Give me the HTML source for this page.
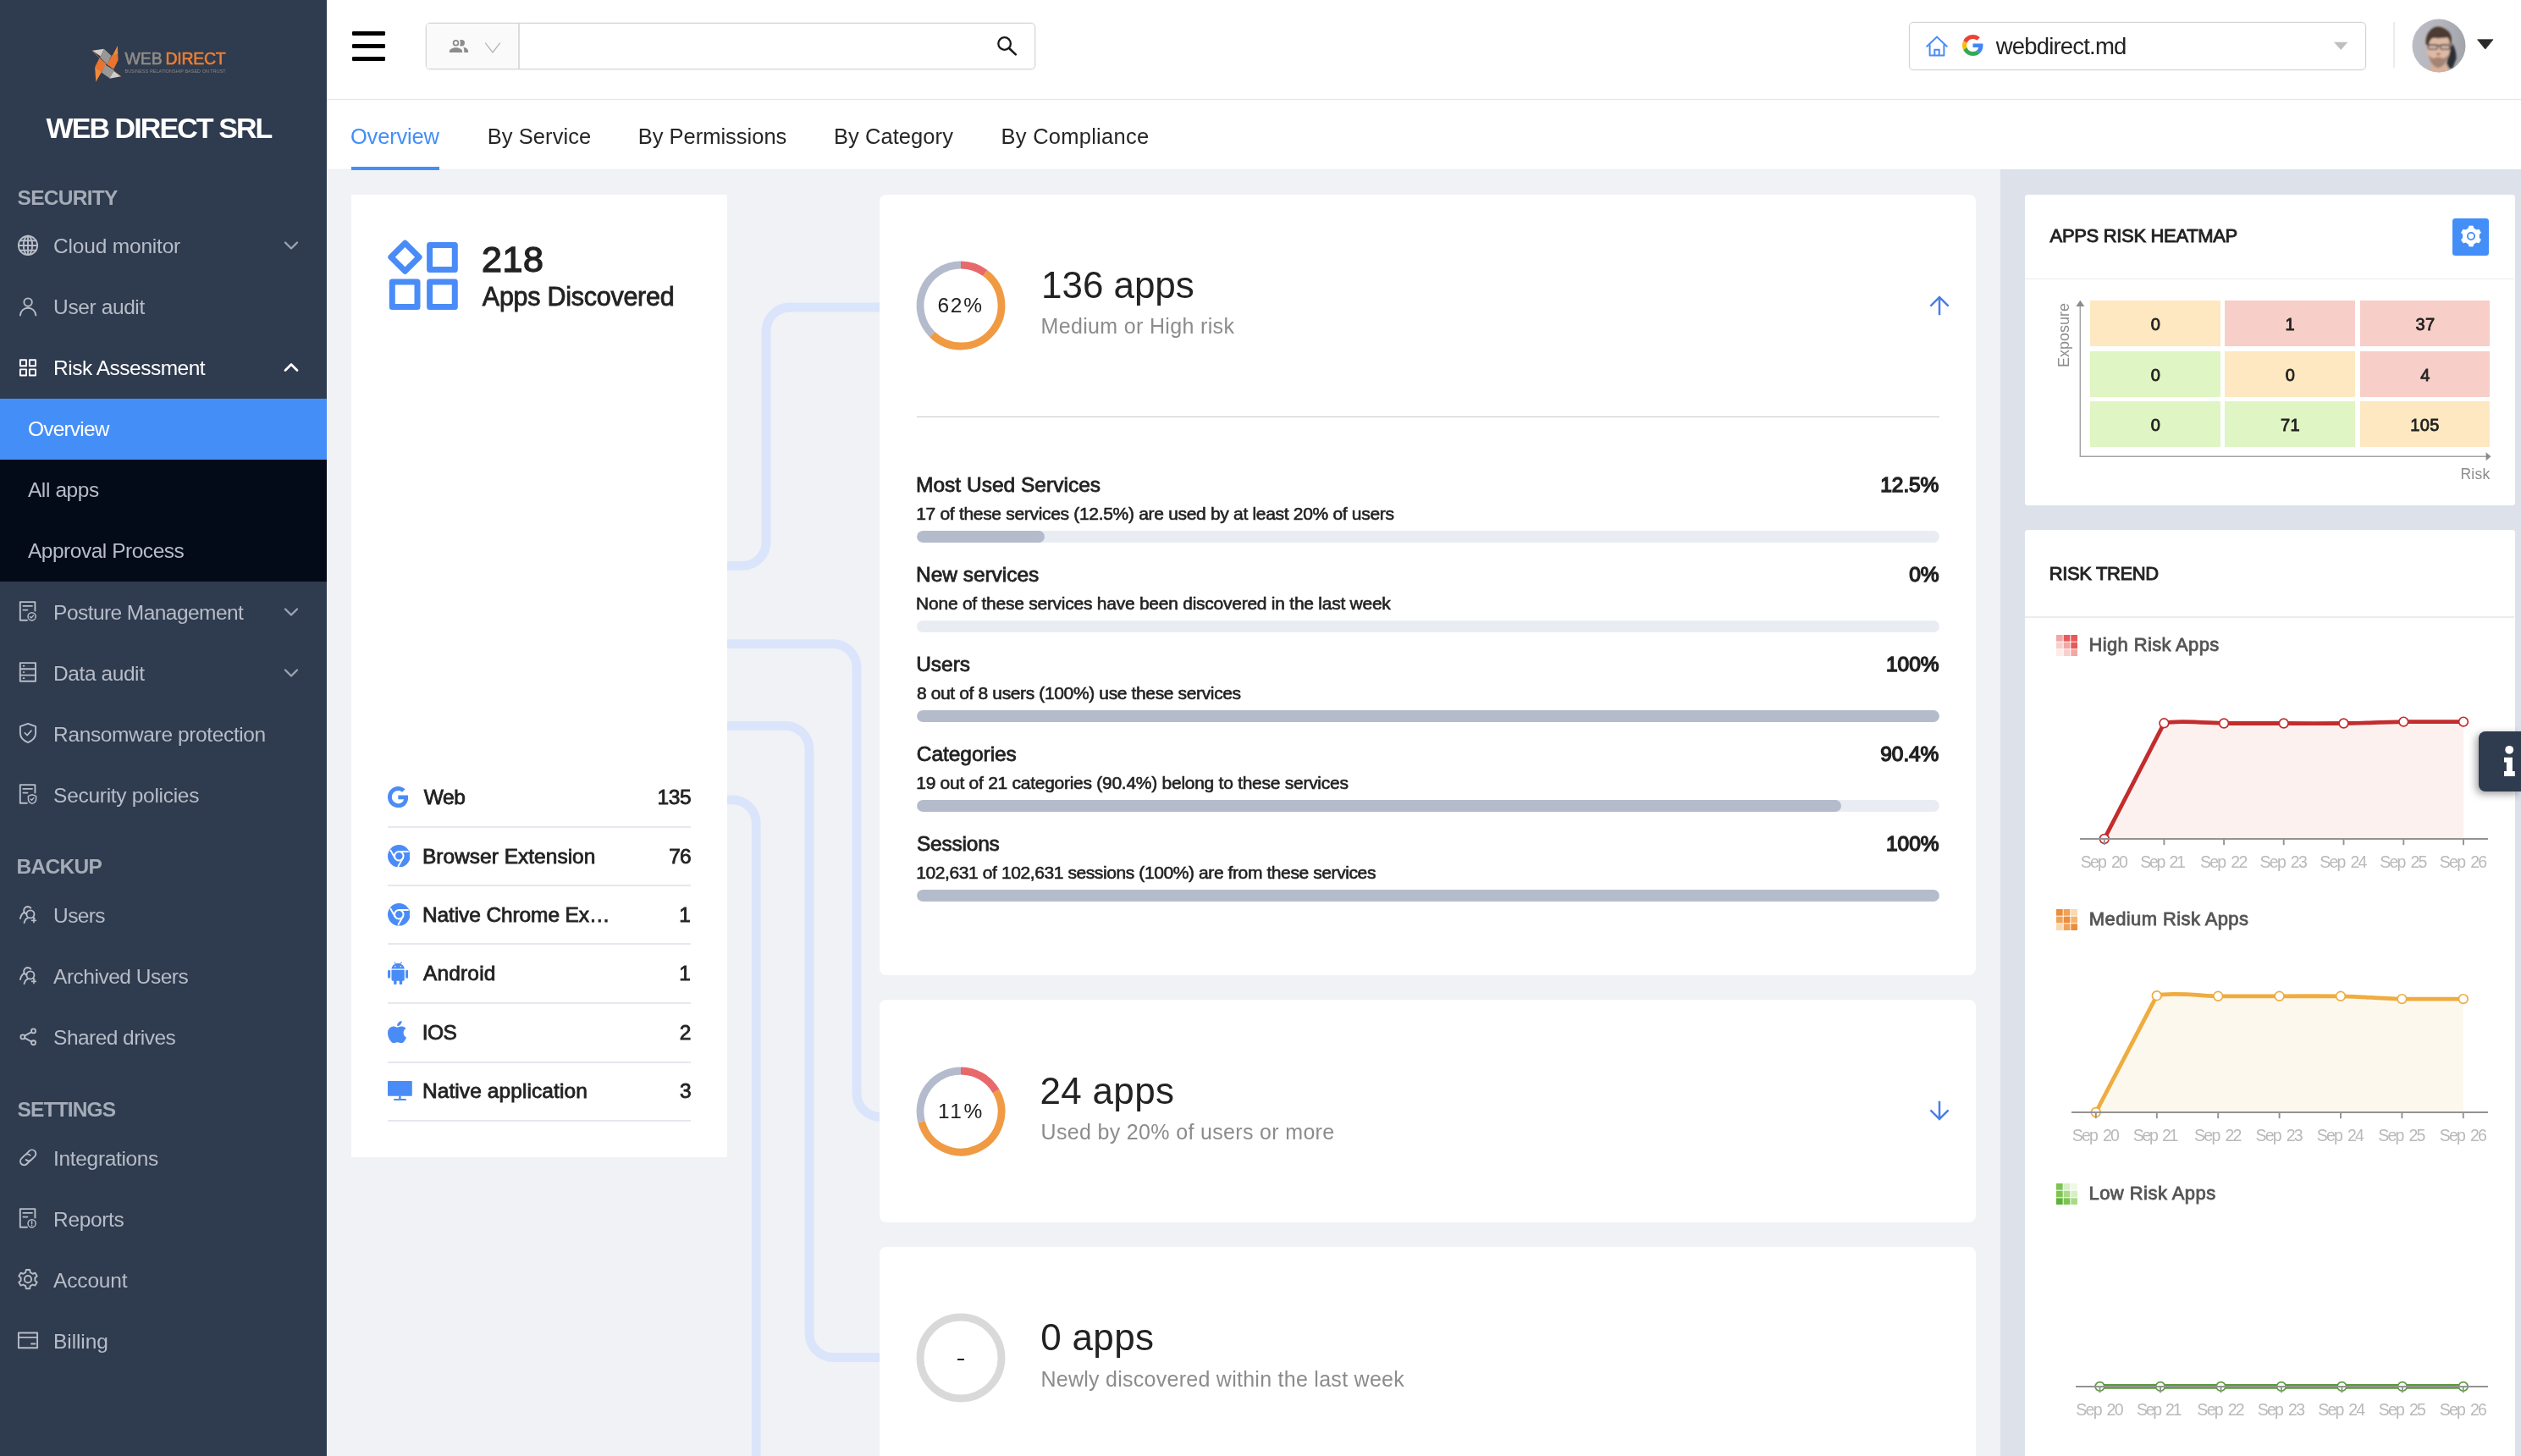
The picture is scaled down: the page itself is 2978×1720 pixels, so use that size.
<!DOCTYPE html>
<html lang="en"><head><meta charset="utf-8"><title>Risk Assessment</title>
<style>
*{box-sizing:border-box;margin:0;padding:0}
html,body{width:2978px;height:1720px;overflow:hidden;background:#f0f2f6}
body{position:relative;will-change:transform;font-family:"Liberation Sans",sans-serif;color:#222}
.abs{position:absolute}
.t{position:absolute;white-space:nowrap;line-height:1}
#sb{position:absolute;left:0;top:0;width:386px;height:1720px;background:#2f3b4e}
.mi{position:absolute;left:0;width:386px;height:72px}
.mi svg.ic{position:absolute;left:21px;top:22.800px;width:24px;height:24px;overflow:visible}
.mi svg.ch{position:absolute;left:335px;top:27px;width:18px;height:18px}
.sub{position:absolute;left:0;width:386px;height:72px;background:#020b17}
.sub.act{background:#448ef7}
#hd{position:absolute;left:386px;top:0;width:2592px;height:118px;background:#fff;border-bottom:1px solid #e6e6e6}
#tabs{position:absolute;left:386px;top:118px;width:2592px;height:83px;background:#fff;border-bottom:1px solid #ecedf0}
.card{position:absolute;background:#fff}
.bar{position:absolute;left:1083px;width:1208px;height:14px;border-radius:7px;background:#e9edf3;overflow:hidden}
.bar i{display:block;height:14px;border-radius:7px;background:#b4bccc}
</style></head><body>
<div id="sb">
<svg class="abs" style="left:106px;top:50px" width="42" height="50" viewBox="0 0 42 50">
<polygon points="2.920,9.640 16.850,7.850 12.920,16.420" fill="#cfcecc"/>
<polygon points="16.850,7.850 25.420,15.700 20.800,26.300 11.900,17.500 12.920,16.420" fill="#9a9896"/>
<polygon points="32.910,3.920 33.270,14.280 26.840,15.700" fill="#f08a3c"/>
<polygon points="26.200,15.200 33.270,14.280 33.630,21.060 28.270,31.800 20.600,26.200" fill="#e8742f"/>
<polygon points="11.490,18.200 19.600,25.600 13.990,35.600 6.140,29.270" fill="#e8742f"/>
<polygon points="6.140,29.270 13.990,34.980 7.210,46.760" fill="#f08a3c"/>
<polygon points="18.300,26.600 28.600,32.800 28.270,33.910 23.990,42.840 14,35.800" fill="#9a9896"/>
<polygon points="28.270,33.910 36.840,40.340 23.630,42.840" fill="#cfcecc"/>
<path d="M2.920 9.640L11.490 18.560M28.270 33.550L36.840 40.340" stroke="#e8742f" stroke-width=".7" fill="none"/>
</svg>
<div class="t " style="left:147.45px;top:59.95px;font-size:19.5px;color:#8f8c89;letter-spacing:-0.069px;-webkit-text-stroke:0.60px #8f8c89;">WEB</div>
<div class="t " style="left:195.54px;top:59.95px;font-size:19.5px;color:#ee7f33;letter-spacing:-0.268px;-webkit-text-stroke:0.60px #ee7f33;">DIRECT</div>
<div class="t " style="left:147.47px;top:82.20px;font-size:5.4px;color:#8b8986;letter-spacing:0.075px;">BUSINESS RELATIONSHIP BASED ON TRUST</div>
<div class="t " style="left:54.50px;top:134.10px;font-size:34px;color:#fff;letter-spacing:-1.916px;font-weight:bold;">WEB DIRECT SRL</div>
<div class="t " style="left:20.53px;top:222.15px;font-size:24.5px;color:#a4acb8;letter-spacing:-0.724px;font-weight:bold;">SECURITY</div>
<div class="mi" style="top:254px;color:#b7bdc8"><svg class="ic" viewBox="0 0 24 24"><g fill="none" stroke="currentColor" stroke-width="1.9" stroke-linecap="round" stroke-linejoin="round" stroke-width="1.700"><circle cx="12" cy="12.950" r="11.150"/><ellipse cx="12" cy="12.950" rx="5.200" ry="11.150"/><path d="M12 1.800v22.300M.85 12.950h22.300M2.600 7.200h18.800M2.600 18.700h18.800"/></g></svg><svg class="ch" viewBox="0 0 18 18"><path d="M2 5.500l7 7 7-7" fill="none" stroke="#9aa3b1" stroke-width="2.400" stroke-linecap="round" stroke-linejoin="round"/></svg></div>
<div class="t " style="left:63.10px;top:278.60px;font-size:24.5px;color:#b7bdc8;letter-spacing:-0.195px;">Cloud monitor</div>
<div class="mi" style="top:326px;color:#b7bdc8"><svg class="ic" viewBox="0 0 24 24"><g fill="none" stroke="currentColor" stroke-width="1.9" stroke-linecap="round" stroke-linejoin="round" stroke-width="1.800"><circle cx="12.100" cy="8.100" r="4.700"/><path d="M2.900 23.500c.5-5.300 4.300-8.700 9.200-8.700s8.700 3.400 9.200 8.700"/></g></svg></div>
<div class="t " style="left:63.10px;top:350.60px;font-size:24.5px;color:#b7bdc8;letter-spacing:-0.393px;">User audit</div>
<div class="mi" style="top:398px;color:#fff"><svg class="ic" viewBox="0 0 24 24"><g fill="none" stroke="currentColor" stroke-width="1.9" stroke-linecap="round" stroke-linejoin="round" stroke-width="1.800" stroke-linejoin="miter" stroke-linecap="square"><rect x="2.900" y="4.200" width="7.100" height="7.100"/><rect x="13.900" y="4.200" width="7.100" height="7.100"/><rect x="2.900" y="15.400" width="7.100" height="7.100"/><rect x="13.900" y="15.400" width="7.100" height="7.100"/></g></svg><svg class="ch" viewBox="0 0 18 18"><path d="M2 12.500l7-7 7 7" fill="none" stroke="#fff" stroke-width="2.800" stroke-linecap="round" stroke-linejoin="round"/></svg></div>
<div class="t " style="left:63.10px;top:422.60px;font-size:24.5px;color:#fff;letter-spacing:-0.499px;">Risk Assessment</div>
<div class="sub act" style="top:471px"></div>
<div class="t " style="left:32.90px;top:495.00px;font-size:24.5px;color:#fff;letter-spacing:-0.781px;">Overview</div>
<div class="sub" style="top:543px"></div>
<div class="t " style="left:32.90px;top:567.00px;font-size:24.5px;color:#b7bdc8;letter-spacing:-0.386px;">All apps</div>
<div class="sub" style="top:615px"></div>
<div class="t " style="left:32.90px;top:639.00px;font-size:24.5px;color:#b7bdc8;letter-spacing:-0.471px;">Approval Process</div>
<div class="mi" style="top:687px;color:#b7bdc8"><svg class="ic" viewBox="0 0 24 24"><g fill="none" stroke="currentColor" stroke-width="1.9" stroke-linecap="round" stroke-linejoin="round" stroke-width="1.650" stroke-linejoin="miter"><path d="M20.400 11.500V1.100H2.800V22.800h8.200"/><path d="M6.300 5.900h10.800M6.300 10.600h5.300" stroke-width="1.600"/><circle cx="16.600" cy="18.300" r="4.600" stroke-width="1.500"/><path d="M14.500 18.400l1.500 1.500 2.700-3" stroke-width="1.400"/></g></svg><svg class="ch" viewBox="0 0 18 18"><path d="M2 5.500l7 7 7-7" fill="none" stroke="#9aa3b1" stroke-width="2.400" stroke-linecap="round" stroke-linejoin="round"/></svg></div>
<div class="t " style="left:63.10px;top:711.60px;font-size:24.5px;color:#b7bdc8;letter-spacing:-0.559px;">Posture Management</div>
<div class="mi" style="top:759px;color:#b7bdc8"><svg class="ic" viewBox="0 0 24 24"><g fill="none" stroke="currentColor" stroke-width="1.9" stroke-linecap="round" stroke-linejoin="round" stroke-width="1.650" stroke-linejoin="miter"><rect x="2.800" y="1.100" width="18.200" height="21.700"/><path d="M2.800 8.300h18.200M2.800 15.600h18.200"/><path d="M6.600 4.700h.9M6.600 12h.9M6.600 19.200h.9" stroke-width="1.700"/></g></svg><svg class="ch" viewBox="0 0 18 18"><path d="M2 5.500l7 7 7-7" fill="none" stroke="#9aa3b1" stroke-width="2.400" stroke-linecap="round" stroke-linejoin="round"/></svg></div>
<div class="t " style="left:63.10px;top:783.60px;font-size:24.5px;color:#b7bdc8;letter-spacing:-0.426px;">Data audit</div>
<div class="mi" style="top:831px;color:#b7bdc8"><svg class="ic" viewBox="0 0 24 24"><g fill="none" stroke="currentColor" stroke-width="1.9" stroke-linecap="round" stroke-linejoin="round" stroke-width="1.650" stroke-linejoin="miter"><path d="M12 .9l9.100 3.300v8.100c0 4.500-3.300 8.400-9.100 10.800-5.800-2.400-9.100-6.300-9.100-10.800V4.200z"/><path d="M8.300 11.700l2.800 2.900 4.900-5.500" stroke-width="1.600"/></g></svg></div>
<div class="t " style="left:63.10px;top:855.60px;font-size:24.5px;color:#b7bdc8;letter-spacing:-0.379px;">Ransomware protection</div>
<div class="mi" style="top:903px;color:#b7bdc8"><svg class="ic" viewBox="0 0 24 24"><g fill="none" stroke="currentColor" stroke-width="1.9" stroke-linecap="round" stroke-linejoin="round" stroke-width="1.650" stroke-linejoin="miter"><path d="M20.400 10.500V1.100H2.800V22.800h8"/><path d="M6.300 5.900h10.800M6.300 10.600h5.300" stroke-width="1.600"/><path d="M17 12.700l4.600 1.700v3.500c0 2.500-1.800 4.400-4.600 5.500-2.800-1.100-4.600-3-4.600-5.500v-3.500z" stroke-width="1.500"/><path d="M15.100 17.900l1.400 1.400 2.400-2.700" stroke-width="1.400"/></g></svg></div>
<div class="t " style="left:63.10px;top:927.60px;font-size:24.5px;color:#b7bdc8;letter-spacing:-0.291px;">Security policies</div>
<div class="t " style="left:19.61px;top:1012.15px;font-size:24.5px;color:#a4acb8;letter-spacing:-0.722px;font-weight:bold;">BACKUP</div>
<div class="mi" style="top:1045px;color:#b7bdc8"><svg class="ic" viewBox="0 0 24 24"><g fill="none" stroke="currentColor" stroke-width="1.9" stroke-linecap="round" stroke-linejoin="round" stroke-width="1.650"><circle cx="14.900" cy="11.900" r="4.550"/><path d="M12 16.300c-2.600 1.100-4 3.300-4.400 5.900"/><path d="M18.100 15.400l1.600 1.700"/><path d="M10 11.500c-1.400-.4-2.600-1.600-2.800-3.400-.3-2.700 1.700-5 4.400-5.100 1.500 0 2.800.6 3.700 1.700"/><path d="M7.600 9.800c-2.300 1.300-4 3.900-4.700 7.300"/><path d="M16.600 19.400h4.700M18.950 17.050v4.700" stroke-width="1.600"/></g></svg></div>
<div class="t " style="left:63.10px;top:1069.60px;font-size:24.5px;color:#b7bdc8;letter-spacing:-0.612px;">Users</div>
<div class="mi" style="top:1117px;color:#b7bdc8"><svg class="ic" viewBox="0 0 24 24"><g fill="none" stroke="currentColor" stroke-width="1.9" stroke-linecap="round" stroke-linejoin="round" stroke-width="1.650"><circle cx="14.900" cy="11.900" r="4.550"/><path d="M12 16.300c-2.600 1.100-4 3.300-4.400 5.900"/><path d="M18.100 15.400l1.600 1.700"/><path d="M10 11.500c-1.400-.4-2.600-1.600-2.800-3.400-.3-2.700 1.700-5 4.400-5.100 1.500 0 2.800.6 3.700 1.700"/><path d="M7.600 9.800c-2.300 1.300-4 3.900-4.700 7.300"/><path d="M16.600 19.400h4.700M18.950 17.050v4.700" stroke-width="1.600"/></g></svg></div>
<div class="t " style="left:63.10px;top:1141.60px;font-size:24.5px;color:#b7bdc8;letter-spacing:-0.496px;">Archived Users</div>
<div class="mi" style="top:1189px;color:#b7bdc8"><svg class="ic" viewBox="0 0 24 24"><g fill="none" stroke="currentColor" stroke-width="1.9" stroke-linecap="round" stroke-linejoin="round" stroke-width="1.650"><circle cx="18.500" cy="5.900" r="2.500"/><circle cx="5.900" cy="12.900" r="2.500"/><circle cx="18.500" cy="19.700" r="2.500"/><path d="M8.100 11.700l8.200-4.600M8.100 14.100l8.200 4.500"/></g></svg></div>
<div class="t " style="left:63.10px;top:1213.60px;font-size:24.5px;color:#b7bdc8;letter-spacing:-0.542px;">Shared drives</div>
<div class="t " style="left:20.53px;top:1299.15px;font-size:24.5px;color:#a4acb8;letter-spacing:-0.844px;font-weight:bold;">SETTINGS</div>
<div class="mi" style="top:1332px;color:#b7bdc8"><svg class="ic" viewBox="0 0 24 24"><g fill="none" stroke="currentColor" stroke-width="1.9" stroke-linecap="round" stroke-linejoin="round" stroke-width="1.650"><path d="M9.700 8.600l3.900-3.900a4.500 4.500 0 0 1 6.400 6.400l-3.900 3.900a4.500 4.500 0 0 1-6.400 0"/><path d="M14.600 16.100l-3.900 3.900a4.500 4.500 0 0 1-6.400-6.400l3.900-3.900a4.500 4.500 0 0 1 6.400 0"/></g></svg></div>
<div class="t " style="left:63.10px;top:1356.60px;font-size:24.5px;color:#b7bdc8;letter-spacing:-0.341px;">Integrations</div>
<div class="mi" style="top:1404px;color:#b7bdc8"><svg class="ic" viewBox="0 0 24 24"><g fill="none" stroke="currentColor" stroke-width="1.9" stroke-linecap="round" stroke-linejoin="round" stroke-width="1.650" stroke-linejoin="miter"><path d="M20.400 11.500V1.100H2.800V22.800h8.200"/><path d="M6.300 5.900h10.800M6.300 10.600h5.300" stroke-width="1.600"/><circle cx="16.600" cy="18.300" r="4.600" stroke-width="1.500"/><path d="M16.600 15.700v3M16.600 20.600v.1" stroke-width="1.500"/></g></svg></div>
<div class="t " style="left:63.10px;top:1428.60px;font-size:24.5px;color:#b7bdc8;letter-spacing:-0.359px;">Reports</div>
<div class="mi" style="top:1476px;color:#b7bdc8"><svg class="ic" viewBox="0 0 24 24"><g fill="none" stroke="currentColor" stroke-width="1.9" stroke-linecap="round" stroke-linejoin="round" stroke-width="1.700" stroke-linejoin="round"><circle cx="12" cy="12.150" r="4.100"/><path d="M14.77 20.19L14.16 23.24L9.84 23.24L9.23 20.19L6.42 18.57L3.47 19.56L1.32 15.83L3.66 13.77L3.66 10.53L1.32 8.47L3.47 4.74L6.42 5.73L9.23 4.11L9.84 1.06L14.16 1.06L14.77 4.11L17.58 5.73L20.53 4.74L22.68 8.47L20.34 10.53L20.34 13.77L22.68 15.83L20.53 19.56L17.58 18.57Z"/></g></svg></div>
<div class="t " style="left:63.10px;top:1500.60px;font-size:24.5px;color:#b7bdc8;letter-spacing:-0.181px;">Account</div>
<div class="mi" style="top:1548px;color:#b7bdc8"><svg class="ic" viewBox="0 0 24 24"><g fill="none" stroke="currentColor" stroke-width="1.9" stroke-linecap="round" stroke-linejoin="round" stroke-width="1.650" stroke-linejoin="miter"><rect x=".900" y="3.500" width="22.200" height="17.800"/><path d="M.9 8.900h22.200"/><path d="M16 16.400h4.500" stroke-width="2"/></g></svg></div>
<div class="t " style="left:63.10px;top:1572.60px;font-size:24.5px;color:#b7bdc8;letter-spacing:-0.104px;">Billing</div>
</div>
<div id="hd">
<div class="abs" style="left:30px;top:37.2px;width:39px;height:4.500px;border-radius:1.200px;background:#000"></div>
<div class="abs" style="left:30px;top:52.4px;width:39px;height:4.500px;border-radius:1.200px;background:#000"></div>
<div class="abs" style="left:30px;top:67.4px;width:39px;height:4.500px;border-radius:1.200px;background:#000"></div>
<div class="abs" style="left:117px;top:27px;width:720px;height:55px;border:1px solid #d6d6d6;box-shadow:0 0 0 1px rgba(0,0,0,.05);border-radius:5px;background:#fff"></div>
<div class="abs" style="left:118px;top:28px;width:109.500px;height:53px;background:#fafafa;border-right:2px solid #dcdcdc;border-radius:3px 0 0 3px"></div>
<svg class="abs" style="left:144px;top:45px" width="24" height="18" viewBox="0 0 24 18">
<defs><mask id="pm"><rect width="24" height="18" fill="#fff"/><circle cx="8.500" cy="5.700" r="5.400" fill="#000"/></mask></defs>
<circle cx="15.300" cy="5.700" r="3.700" fill="#8c8c8c" mask="url(#pm)"/>
<circle cx="8.500" cy="5.700" r="2.900" fill="none" stroke="#8c8c8c" stroke-width="1.800"/>
<path d="M.9 16.900v-1.300c0-2.700 4.200-4.400 7.600-4.400s7.600 1.700 7.600 4.400v1.300z" fill="#8c8c8c"/>
<path d="M17.300 10.800c3 .5 5.800 2.100 5.800 4.800v1.300h-4.800v-1.600c0-1.900-.4-3.300-1-4.500z" fill="#8c8c8c"/>
</svg>
<svg class="abs" style="left:186px;top:49px" width="20" height="15" viewBox="0 0 20 15"><path d="M1.200 1.600L10 13l8.800-11.400" fill="none" stroke="#b5b5b5" stroke-width="1.300" stroke-linejoin="miter"/></svg>
<svg class="abs" style="left:790px;top:41px" width="28" height="28" viewBox="0 0 28 28"><circle cx="10.600" cy="10.500" r="7.300" fill="none" stroke="#1a1a1a" stroke-width="2.300"/><path d="M15.800 15.800l8 7.600" stroke="#1a1a1a" stroke-width="2.600" stroke-linecap="round"/></svg>
<div class="abs" style="left:1869px;top:26px;width:540px;height:57px;border:1px solid #d2d2d2;box-shadow:0 0 0 1px rgba(0,0,0,.025);border-radius:5px;background:#fff"></div>
<svg class="abs" style="left:1888px;top:41px" width="28" height="28" viewBox="0 0 28 28">
<path d="M2.300 13.800L14 2.600l11.700 11.200" fill="none" stroke="#4a8cf7" stroke-width="2" stroke-linejoin="miter" stroke-linecap="round"/>
<path d="M5.600 11.500V24.500h16.800V11.500" fill="none" stroke="#4a8cf7" stroke-width="2" stroke-linejoin="round"/>
<path d="M11.300 24.500v-6.700h5.400v6.700" fill="none" stroke="#4a8cf7" stroke-width="2"/>
</svg>
<svg class="abs" style="left:1932px;top:41px" width="25" height="25" viewBox="0 0 48 48">
<path fill="#EA4335" d="M24 9.500c3.540 0 6.710 1.220 9.210 3.600l6.850-6.850C35.900 2.380 30.470 0 24 0 14.620 0 6.510 5.380 2.560 13.220l7.980 6.190C12.430 13.720 17.740 9.500 24 9.500z"/>
<path fill="#4285F4" d="M46.980 24.550c0-1.570-.15-3.090-.38-4.550H24v9.020h12.940c-.58 2.960-2.260 5.480-4.780 7.180l7.730 6c4.510-4.180 7.090-10.360 7.090-17.650z"/>
<path fill="#FBBC05" d="M10.530 28.590c-.48-1.450-.76-2.990-.76-4.590s.27-3.140.76-4.590l-7.980-6.190C.92 16.460 0 20.120 0 24c0 3.880.92 7.540 2.560 10.780l7.970-6.190z"/>
<path fill="#34A853" d="M24 48c6.480 0 11.930-2.130 15.890-5.810l-7.730-6c-2.150 1.450-4.920 2.300-8.160 2.300-6.260 0-11.570-4.220-13.470-9.910l-7.980 6.190C6.510 42.620 14.620 48 24 48z"/>
</svg>
<div class="t " style="left:1971.67px;top:41.15px;font-size:27.5px;color:#222;letter-spacing:-0.803px;">webdirect.md</div>
<svg class="abs" style="left:2371px;top:49px" width="17" height="11" viewBox="0 0 17 11"><path d="M0 .8h16.400L8.200 10z" fill="#bfbfbf"/></svg>
<div class="abs" style="left:2441px;top:26px;width:1.500px;height:54px;background:#ececec"></div>
<svg class="abs" style="left:2463.200px;top:22.200px" width="64" height="64" viewBox="0 0 64 64">
<defs><clipPath id="av"><circle cx="32" cy="32" r="31.500"/></clipPath>
<linearGradient id="avbg" x1="0" x2="1" y1="0" y2="0"><stop offset="0" stop-color="#bcbdc4"/><stop offset=".55" stop-color="#b4b5bc"/><stop offset="1" stop-color="#a2a4ab"/></linearGradient>
<filter id="avbl" x="-10%" y="-10%" width="120%" height="120%"><feGaussianBlur stdDeviation="0.900"/></filter></defs>
<g clip-path="url(#av)">
<rect width="64" height="64" fill="url(#avbg)"/>
<g filter="url(#avbl)">
<path d="M42 38l6.500-8c2.500 5 4.500 11 4 17.500l-4.500 11.500-6.500-1z" fill="#2c2e36"/>
<path d="M20.500 64l1.500-9h20.500l2 9z" fill="#d9b09b"/>
<path d="M17.300 30c-.4 8 1.600 16 5.200 21.500 2.600 4 5.600 6.300 8.800 6.300s6.200-2.300 8.800-6.300c3.600-5.500 5.900-13.500 5.500-21.500-.3-6-6-9.500-14-9.500s-14 3.500-14.300 9.500z" fill="#dfb9a3"/>
<path d="M19.500 42.500c1 5 3 9.200 5.500 12 2 2.200 4 3.400 6.300 3.400s4.300-1.200 6.300-3.400c2.500-2.800 4.700-7 5.700-12-2 2.800-4.500 4.300-7 4.500-1.600-1.200-3.200-1.600-5-1.600s-3.400.4-5 1.600c-2.500-.2-4.800-1.700-6.800-4.500z" fill="#7d6152" opacity=".6"/>
<path d="M27.500 45.300c2.500 1.300 5.100 1.300 7.600 0-1 1.700-6.600 1.700-7.600 0z" fill="#c98f8a"/>
<path d="M29 41c.6 1.300 1.500 1.900 2.300 1.900s1.900-.6 2.500-1.900c-1 .5-3.800.5-4.800 0z" fill="#3a2a24"/>
<path d="M16.800 31c-1-7 1-13 4.400-16.500 2.300-2.800 5.300-4.800 9-5 3.800-.2 7.300 1.200 10 3.300 3.800 2 6 5.500 6.600 9.500.4 3 .3 6-.3 8.700l-1.700-.5c.2-3.500-.8-6.500-2.600-8.500-4.500 1-11 1.500-16.500.8-2.800.6-4.800 3.200-5.900 8.500z" fill="#4b3a30"/>
<rect x="18.400" y="31" width="27" height="1.500" fill="#35353a"/>
<rect x="19.300" y="31" width="11" height="5.300" rx="1.500" fill="#cfb3a6" stroke="#3a3a40" stroke-width="1.300"/>
<rect x="33.700" y="31" width="11" height="5.300" rx="1.500" fill="#cfb3a6" stroke="#3a3a40" stroke-width="1.300"/>
</g></g></svg>
<svg class="abs" style="left:2540px;top:46px" width="20" height="13" viewBox="0 0 20 13"><path d="M.6 .8h18.400L9.800 12z" fill="#2b2b2b" stroke="#2b2b2b" stroke-width=".8" stroke-linejoin="round"/></svg>
</div>
<div id="tabs">
<div class="t " style="left:27.95px;top:30.65px;font-size:25.5px;color:#448ef7;letter-spacing:-0.184px;">Overview</div>
<div class="t " style="left:189.66px;top:30.65px;font-size:25.5px;color:#262626;letter-spacing:0.077px;">By Service</div>
<div class="t " style="left:367.76px;top:30.65px;font-size:25.5px;color:#262626;letter-spacing:-0.012px;">By Permissions</div>
<div class="t " style="left:598.96px;top:30.65px;font-size:25.5px;color:#262626;letter-spacing:0.063px;">By Category</div>
<div class="t " style="left:796.56px;top:30.65px;font-size:25.5px;color:#262626;letter-spacing:0.253px;">By Compliance</div>
<div class="abs" style="left:29px;top:79px;width:104px;height:4px;background:#448ef7"></div>
</div>
<svg class="abs" style="left:859px;top:200px" width="180" height="1520" viewBox="859 200 180 1520"><g fill="none" stroke="#dae5fb" stroke-width="10.800"><path d="M855 668.400H877a28 28 0 0 0 28 -28V391a28 28 0 0 1 28 -28H1045"/><path d="M855 760.600H984a28 28 0 0 1 28 28V1291.5a28 28 0 0 0 28 28H1045"/><path d="M855 857.300H928a28 28 0 0 1 28 28V1575.5a28 28 0 0 0 28 28H1045"/><path d="M855 944.800H865.3a28 28 0 0 1 28 28V1721"/></g></svg>
<div class="card" style="left:415px;top:230px;width:444px;height:1137px"></div>
<svg class="abs" style="left:455px;top:280px" width="90" height="90" viewBox="0 0 90 90">
<g fill="none" stroke="#4a8cf7" stroke-width="7" stroke-linejoin="round">
<rect x="52.600" y="9.400" width="29.700" height="29.200"/>
<rect x="8.300" y="53" width="29.700" height="29.400"/>
<rect x="52.600" y="53" width="29.700" height="29.400"/>
<path d="M23.500 7.100L40.100 23.700 23.500 40.300 6.900 23.700z"/>
</g></svg>
<div class="t " style="left:569.05px;top:284.60px;font-size:43px;color:#222;letter-spacing:0.534px;-webkit-text-stroke:1.40px #222;">218</div>
<div class="t " style="left:569.82px;top:334.85px;font-size:30.5px;color:#222;letter-spacing:-0.267px;-webkit-text-stroke:0.84px #222;">Apps Discovered</div>
<svg class="abs" style="left:457.8px;top:928.8px" width="24.2" height="25.2" viewBox="0 0 46.980 48" preserveAspectRatio="none"><path fill="#4a8cf7" d="M24 9.500c3.540 0 6.710 1.220 9.210 3.600l6.850-6.850C35.900 2.380 30.470 0 24 0 10.750 0 0 10.750 0 24s10.750 24 24 24c6.480 0 11.930-2.130 15.890-5.810 4.510-4.180 7.090-10.360 7.090-17.640 0-1.570-.15-3.090-.38-4.550H24v9.020h12.940c-.58 2.960-2.260 5.480-4.780 7.180-2.150 1.450-4.920 2.300-8.160 2.300-7.960 0-14.500-6.540-14.500-14.500S16.040 9.500 24 9.500z"/></svg>
<div class="t " style="left:500.84px;top:929.85px;font-size:24.5px;color:#222;letter-spacing:-0.489px;-webkit-text-stroke:0.80px #222;">Web</div>
<div class="t " style="left:776.46px;top:929.85px;font-size:24.5px;color:#222;letter-spacing:-0.368px;-webkit-text-stroke:0.80px #222;">135</div>
<div class="abs" style="left:458px;top:975.5px;width:358px;height:2px;background:#e6e8ef"></div>
<svg class="abs" style="left:457.8px;top:997.8px" width="26.6" height="26.6" viewBox="0 0 48 48"><circle cx="24" cy="24" r="24" fill="#4a8cf7"/><circle cx="24" cy="24" r="9.500" fill="none" stroke="#fff" stroke-width="3.600"/><path d="M24 14.500h20.500M15.800 28.800L5.500 11M32.200 28.800L22 46.500" stroke="#fff" stroke-width="3.400" fill="none"/></svg>
<div class="t " style="left:498.94px;top:999.55px;font-size:24.5px;color:#222;letter-spacing:0.011px;-webkit-text-stroke:0.80px #222;">Browser Extension</div>
<div class="t " style="left:790.17px;top:999.55px;font-size:24.5px;color:#222;letter-spacing:-0.729px;-webkit-text-stroke:0.80px #222;">76</div>
<div class="abs" style="left:458px;top:1044.5px;width:358px;height:2px;background:#e6e8ef"></div>
<svg class="abs" style="left:457.8px;top:1067.3px" width="26.6" height="26.6" viewBox="0 0 48 48"><circle cx="24" cy="24" r="24" fill="#4a8cf7"/><circle cx="24" cy="24" r="9.500" fill="none" stroke="#fff" stroke-width="3.600"/><path d="M24 14.500h20.500M15.800 28.800L5.500 11M32.200 28.800L22 46.500" stroke="#fff" stroke-width="3.400" fill="none"/></svg>
<div class="t " style="left:498.94px;top:1069.05px;font-size:24.5px;color:#222;letter-spacing:-0.109px;-webkit-text-stroke:0.80px #222;">Native Chrome Ex…</div>
<div class="t " style="left:802.26px;top:1069.05px;font-size:24.5px;color:#222;letter-spacing:0.000px;-webkit-text-stroke:0.80px #222;">1</div>
<div class="abs" style="left:458px;top:1114.4px;width:358px;height:2px;background:#e6e8ef"></div>
<svg class="abs" style="left:457.8px;top:1136.1px" width="24.3" height="27.4" viewBox="1 1.400 46 49.600" preserveAspectRatio="none"><g fill="#4a8cf7"><path d="M9.500 19h29v20.500a3 3 0 0 1-3 3H12.500a3 3 0 0 1-3-3z"/><path d="M9.500 17c.3-5.500 3.600-9 8-10.800L15 2.200l1.300-.8 2.700 4.200c3.200-1 6.800-1 10 0l2.700-4.200 1.300.8-2.500 4C34.900 8 38.200 11.500 38.500 17z"/><rect x="1" y="19" width="6" height="18" rx="3"/><rect x="41" y="19" width="6" height="18" rx="3"/><rect x="14.500" y="38" width="6.500" height="13" rx="3.200"/><rect x="27" y="38" width="6.500" height="13" rx="3.200"/></g><circle cx="17.800" cy="11.800" r="1.500" fill="#fff"/><circle cx="30.200" cy="11.800" r="1.500" fill="#fff"/></svg>
<div class="t " style="left:500.00px;top:1138.25px;font-size:24.5px;color:#222;letter-spacing:0.155px;-webkit-text-stroke:0.80px #222;">Android</div>
<div class="t " style="left:802.26px;top:1138.25px;font-size:24.5px;color:#222;letter-spacing:0.000px;-webkit-text-stroke:0.80px #222;">1</div>
<div class="abs" style="left:458px;top:1183.5px;width:358px;height:2px;background:#e6e8ef"></div>
<svg class="abs" style="left:457.8px;top:1206.1px" width="22" height="26.4" viewBox="7.290 4.500 34.610 43" preserveAspectRatio="none"><path fill="#4a8cf7" d="M36.600 27.600c-.1-5.500 4.500-8.200 4.700-8.300-2.600-3.700-6.500-4.300-7.900-4.300-3.400-.3-6.600 2-8.300 2-1.700 0-4.300-1.900-7.100-1.900-3.600.1-7 2.100-8.900 5.400-3.800 6.600-1 16.300 2.700 21.600 1.800 2.600 3.900 5.500 6.700 5.400 2.700-.1 3.700-1.700 7-1.700 3.200 0 4.200 1.700 7 1.700 2.900-.1 4.700-2.600 6.500-5.300 2-3 2.900-5.900 2.900-6.100-.1 0-5.200-2-5.300-8.500zM31.200 11.300c1.500-1.800 2.500-4.300 2.200-6.800-2.100.1-4.700 1.400-6.300 3.200-1.400 1.600-2.600 4.200-2.200 6.600 2.400.2 4.800-1.200 6.300-3z"/></svg>
<div class="t " style="left:498.69px;top:1207.75px;font-size:24.5px;color:#222;letter-spacing:-0.497px;-webkit-text-stroke:0.80px #222;">IOS</div>
<div class="t " style="left:802.67px;top:1207.75px;font-size:24.5px;color:#222;letter-spacing:0.000px;-webkit-text-stroke:0.80px #222;">2</div>
<div class="abs" style="left:458px;top:1253.5px;width:358px;height:2px;background:#e6e8ef"></div>
<svg class="abs" style="left:457.8px;top:1277.3px" width="28.8" height="23.1" viewBox="0 0 58 47" preserveAspectRatio="none"><g fill="#4a8cf7"><rect x="0" y="0" width="58" height="36" rx="1.500"/><rect x="26.500" y="36" width="5" height="8"/><rect x="14.500" y="42.500" width="29.500" height="4.500" rx="1"/></g></svg>
<div class="t " style="left:498.94px;top:1277.35px;font-size:24.5px;color:#222;letter-spacing:0.090px;-webkit-text-stroke:0.80px #222;">Native application</div>
<div class="t " style="left:802.98px;top:1277.35px;font-size:24.5px;color:#222;letter-spacing:0.000px;-webkit-text-stroke:0.80px #222;">3</div>
<div class="abs" style="left:458px;top:1322.6px;width:358px;height:2px;background:#e6e8ef"></div>
<div class="card" style="left:1039px;top:230px;width:1295px;height:922px;border-radius:8px"></div>
<div class="card" style="left:1039px;top:1181px;width:1295px;height:263px;border-radius:8px"></div>
<div class="card" style="left:1039px;top:1473px;width:1295px;height:247px;border-radius:8px 8px 0 0"></div>
<svg class="abs" style="left:1079.2px;top:304.9px" width="112" height="112" viewBox="0 0 112 112"><path d="M22.36 90.24A48 48 0 0 1 56.00 8.00" fill="none" stroke="#b3bbcc" stroke-width="8.8"/><path d="M84.75 17.56A48 48 0 1 1 22.36 90.24" fill="none" stroke="#f09a43" stroke-width="8.8"/><path d="M56.00 8.00A48 48 0 0 1 84.75 17.56" fill="none" stroke="#e8696b" stroke-width="8.8"/></svg>
<div class="t " style="left:1107.38px;top:348.95px;font-size:24.5px;color:#222;letter-spacing:1.861px;">62%</div>
<div class="t " style="left:1230.10px;top:314.90px;font-size:44px;color:#222;letter-spacing:-0.060px;">136 apps</div>
<div class="t " style="left:1229.50px;top:373.30px;font-size:25px;color:#8c8c8c;letter-spacing:0.340px;">Medium or High risk</div>
<svg class="abs" style="left:2278.5px;top:349px" width="24" height="24" viewBox="0 0 24 24" overflow="visible"><path d="M12 23.300V2M1.400 12.600L12 2l10.600 10.600" fill="none" stroke="#4a7fe8" stroke-width="2.500"/></svg>
<div class="abs" style="left:1083px;top:491.800px;width:1208px;height:1.200px;background:#c9c9c9"></div>
<div class="t " style="left:1082.04px;top:560.75px;font-size:24.5px;color:#222;letter-spacing:0.009px;-webkit-text-stroke:0.80px #222;">Most Used Services</div>
<div class="t " style="left:2221.34px;top:561.25px;font-size:24.5px;color:#222;letter-spacing:-0.100px;-webkit-text-stroke:1.40px #222;">12.5%</div>
<div class="t " style="left:1082.22px;top:596.20px;font-size:21px;color:#222;letter-spacing:-0.310px;-webkit-text-stroke:0.60px #222;">17 of these services (12.5%) are used by at least 20% of users</div>
<div class="bar" style="top:627.4px"><i style="width:12.5%"></i></div>
<div class="t " style="left:1082.04px;top:666.75px;font-size:24.5px;color:#222;letter-spacing:-0.040px;-webkit-text-stroke:0.80px #222;">New services</div>
<div class="t " style="left:2255.16px;top:667.25px;font-size:24.5px;color:#222;letter-spacing:-0.100px;-webkit-text-stroke:1.40px #222;">0%</div>
<div class="t " style="left:1082.12px;top:702.20px;font-size:21px;color:#222;letter-spacing:-0.250px;-webkit-text-stroke:0.60px #222;">None of these services have been discovered in the last week</div>
<div class="bar" style="top:733.4px"><i style="width:0%"></i></div>
<div class="t " style="left:1082.16px;top:772.75px;font-size:24.5px;color:#222;letter-spacing:-0.003px;-webkit-text-stroke:0.80px #222;">Users</div>
<div class="t " style="left:2228.10px;top:773.25px;font-size:24.5px;color:#222;letter-spacing:-0.100px;-webkit-text-stroke:1.40px #222;">100%</div>
<div class="t " style="left:1082.91px;top:808.20px;font-size:21px;color:#222;letter-spacing:-0.362px;-webkit-text-stroke:0.60px #222;">8 out of 8 users (100%) use these services</div>
<div class="bar" style="top:839.4px"><i style="width:100%"></i></div>
<div class="t " style="left:1082.78px;top:878.75px;font-size:24.5px;color:#222;letter-spacing:-0.042px;-webkit-text-stroke:0.80px #222;">Categories</div>
<div class="t " style="left:2221.34px;top:879.25px;font-size:24.5px;color:#222;letter-spacing:-0.100px;-webkit-text-stroke:1.40px #222;">90.4%</div>
<div class="t " style="left:1082.22px;top:914.20px;font-size:21px;color:#222;letter-spacing:-0.266px;-webkit-text-stroke:0.60px #222;">19 out of 21 categories (90.4%) belong to these services</div>
<div class="bar" style="top:945.4px"><i style="width:90.4%"></i></div>
<div class="t " style="left:1082.90px;top:984.75px;font-size:24.5px;color:#222;letter-spacing:-0.207px;-webkit-text-stroke:0.80px #222;">Sessions</div>
<div class="t " style="left:2228.10px;top:985.25px;font-size:24.5px;color:#222;letter-spacing:-0.100px;-webkit-text-stroke:1.40px #222;">100%</div>
<div class="t " style="left:1082.22px;top:1020.20px;font-size:21px;color:#222;letter-spacing:-0.403px;-webkit-text-stroke:0.60px #222;">102,631 of 102,631 sessions (100%) are from these services</div>
<div class="bar" style="top:1051.4px"><i style="width:100%"></i></div>
<svg class="abs" style="left:1079.1px;top:1256.5px" width="112" height="112" viewBox="0 0 112 112"><path d="M9.64 68.42A48 48 0 0 1 56.00 8.00" fill="none" stroke="#b3bbcc" stroke-width="8.8"/><path d="M97.57 32.00A48 48 0 1 1 9.64 68.42" fill="none" stroke="#f09a43" stroke-width="8.8"/><path d="M56.00 8.00A48 48 0 0 1 97.57 32.00" fill="none" stroke="#e8696b" stroke-width="8.8"/></svg>
<div class="t " style="left:1108.06px;top:1300.95px;font-size:24.5px;color:#222;letter-spacing:2.486px;">11%</div>
<div class="t " style="left:1228.60px;top:1266.90px;font-size:44px;color:#222;letter-spacing:0.285px;">24 apps</div>
<div class="t " style="left:1229.53px;top:1325.40px;font-size:25px;color:#8c8c8c;letter-spacing:0.334px;">Used by 20% of users or more</div>
<svg class="abs" style="left:2278.5px;top:1300px" width="24" height="24" viewBox="0 0 24 24" overflow="visible"><path d="M12 .7V22M1.400 11.400L12 22l10.600-10.600" fill="none" stroke="#4a7fe8" stroke-width="2.500"/></svg>
<svg class="abs" style="left:1079px;top:1548px" width="112" height="112" viewBox="0 0 112 112"><circle cx="56" cy="56" r="48" fill="none" stroke="#d9d9d9" stroke-width="8.800"/></svg>
<div class="abs" style="left:1131px;top:1604.500px;width:7.600px;height:2.200px;background:#222"></div>
<div class="t " style="left:1229.15px;top:1558.40px;font-size:44px;color:#222;letter-spacing:0.356px;">0 apps</div>
<div class="t " style="left:1229.40px;top:1616.90px;font-size:25px;color:#8c8c8c;letter-spacing:0.270px;">Newly discovered within the last week</div>
<div class="abs" style="left:2363px;top:200px;width:615px;height:1520px;background:#dde1ea"></div>
<div class="card" style="left:2392.300px;top:230.200px;width:578.400px;height:366.600px;border-radius:3.500px"></div>
<div class="card" style="left:2392.300px;top:626.400px;width:578.400px;height:1093.600px;border-radius:3.500px 3.500px 0 0"></div>
<div class="t " style="left:2421.55px;top:268.40px;font-size:22px;color:#222;letter-spacing:-0.327px;-webkit-text-stroke:0.90px #222;">APPS RISK HEATMAP</div>
<div class="abs" style="left:2897px;top:258px;width:43px;height:44px;border-radius:3.500px;background:#448ef7"></div>
<svg class="abs" style="left:2904.800px;top:265.100px" width="28" height="28" viewBox="-14 -14 28 28" overflow="visible"><path d="M2.97 9.13L2.22 12.00L-2.22 12.00L-2.97 9.13L-6.42 7.13L-9.28 7.92L-11.50 4.07L-9.39 2.00L-9.39 -2.00L-11.50 -4.07L-9.28 -7.92L-6.42 -7.13L-2.97 -9.13L-2.22 -12.00L2.22 -12.00L2.97 -9.13L6.42 -7.13L9.28 -7.92L11.50 -4.07L9.39 -2.00L9.39 2.00L11.50 4.07L9.28 7.92L6.42 7.13Z" fill="#fff" stroke="#fff" stroke-width=".8" stroke-linejoin="round"/><circle cx="0" cy="0" r="5" fill="#448ef7"/><circle cx="0" cy="0" r="3.150" fill="#fff"/></svg>
<div class="abs" style="left:2392.300px;top:328.500px;width:578.200px;height:1.800px;background:#ececec"></div>
<div class="abs" style="left:2469px;top:354.8px;width:154.0px;height:54.1px;background:#fde8c1"></div>
<div class="t " style="left:2540.75px;top:372.70px;font-size:20px;color:#222;letter-spacing:0.000px;-webkit-text-stroke:0.80px #222;">0</div>
<div class="abs" style="left:2628.2px;top:354.8px;width:153.8px;height:54.1px;background:#f8cec8"></div>
<div class="t " style="left:2699.58px;top:372.70px;font-size:20px;color:#222;letter-spacing:0.000px;-webkit-text-stroke:0.80px #222;">1</div>
<div class="abs" style="left:2788.1px;top:354.8px;width:152.7px;height:54.1px;background:#f8cec8"></div>
<div class="t " style="left:2853.55px;top:372.70px;font-size:20px;color:#222;letter-spacing:0.400px;-webkit-text-stroke:0.80px #222;">37</div>
<div class="abs" style="left:2469px;top:415px;width:154.0px;height:53.7px;background:#dff5c3"></div>
<div class="t " style="left:2540.75px;top:432.90px;font-size:20px;color:#222;letter-spacing:0.000px;-webkit-text-stroke:0.80px #222;">0</div>
<div class="abs" style="left:2628.2px;top:415px;width:153.8px;height:53.7px;background:#fde8c1"></div>
<div class="t " style="left:2699.85px;top:432.90px;font-size:20px;color:#222;letter-spacing:0.000px;-webkit-text-stroke:0.80px #222;">0</div>
<div class="abs" style="left:2788.1px;top:415px;width:152.7px;height:53.7px;background:#f8cec8"></div>
<div class="t " style="left:2859.25px;top:432.90px;font-size:20px;color:#222;letter-spacing:0.000px;-webkit-text-stroke:0.80px #222;">4</div>
<div class="abs" style="left:2469px;top:474.2px;width:154.0px;height:53.6px;background:#dff5c3"></div>
<div class="t " style="left:2540.75px;top:492.10px;font-size:20px;color:#222;letter-spacing:0.000px;-webkit-text-stroke:0.80px #222;">0</div>
<div class="abs" style="left:2628.2px;top:474.2px;width:153.8px;height:53.6px;background:#dff5c3"></div>
<div class="t " style="left:2694.08px;top:492.10px;font-size:20px;color:#222;letter-spacing:0.400px;-webkit-text-stroke:0.80px #222;">71</div>
<div class="abs" style="left:2788.1px;top:474.2px;width:152.7px;height:53.6px;background:#fde8c1"></div>
<div class="t " style="left:2847.33px;top:492.10px;font-size:20px;color:#222;letter-spacing:0.400px;-webkit-text-stroke:0.80px #222;">105</div>
<svg class="abs" style="left:2440px;top:345px" width="520" height="210" viewBox="2440 345 520 210"><path d="M2457.300 361V539.200H2937" fill="none" stroke="#a3a3a3" stroke-width="1.500"/><path d="M2452.300 362h10L2457.300 354.800z" fill="#8c8c8c"/><path d="M2936.600 534.200v10l5.900-5z" fill="#8c8c8c"/></svg>
<div class="t" style="left:2400px;top:385.400px;width:76px;height:22px;line-height:22px;font-size:18px;color:#8c8c8c;text-align:center;transform:rotate(-90deg);transform-origin:center">Exposure</div>
<div class="t " style="left:2906.50px;top:552.15px;font-size:17.5px;color:#8c8c8c;letter-spacing:0.206px;">Risk</div>
<div class="t " style="left:2420.69px;top:666.70px;font-size:22px;color:#222;letter-spacing:-0.369px;-webkit-text-stroke:0.90px #222;">RISK TREND</div>
<div class="abs" style="left:2392.300px;top:728.400px;width:578.200px;height:1.800px;background:#ececec"></div>
<svg class="abs" style="left:2429px;top:750px" width="25" height="25" viewBox="0 0 25 25"><rect x="0.00" y="0.00" width="7.700" height="7.700" fill="#f2a7a5"/><rect x="8.65" y="0.00" width="7.700" height="7.700" fill="#e8595a"/><rect x="17.30" y="0.00" width="7.700" height="7.700" fill="#e8595a"/><rect x="0.00" y="8.65" width="7.700" height="7.700" fill="#f9cfcc"/><rect x="8.65" y="8.65" width="7.700" height="7.700" fill="#f2a7a5"/><rect x="17.30" y="8.65" width="7.700" height="7.700" fill="#e8595a"/><rect x="0.00" y="17.30" width="7.700" height="7.700" fill="#fdecea"/><rect x="8.65" y="17.30" width="7.700" height="7.700" fill="#f9cfcc"/><rect x="17.30" y="17.30" width="7.700" height="7.700" fill="#f2a7a5"/></svg>
<div class="t " style="left:2467.54px;top:751.10px;font-size:22px;color:#555;letter-spacing:0.352px;-webkit-text-stroke:0.80px #555;">High Risk Apps</div>
<svg class="abs" style="left:2392px;top:820.6px" width="578" height="200" viewBox="2392 820.6 578 200"><path d="M2485.8 990.6 C2485.8 990.6 2556.4 853.9 2556.4 853.9 C2570.5 849.4 2613.0 854.1 2627.1 854.1 C2641.2 854.1 2683.6 854.1 2697.7 854.1 C2711.8 854.1 2754.3 854.2 2768.5 854.1 C2782.7 854.0 2825.2 852.3 2839.3 852.2 C2853.5 852.1 2902.9 852.2 2910.0 852.2 L2910.0 990.6 L2485.8 990.6Z" fill="#fdf1f0"/><path d="M2485.8 990.6 C2485.8 990.6 2556.4 853.9 2556.4 853.9 C2570.5 849.4 2613.0 854.1 2627.1 854.1 C2641.2 854.1 2683.6 854.1 2697.7 854.1 C2711.8 854.1 2754.3 854.2 2768.5 854.1 C2782.7 854.0 2825.2 852.3 2839.3 852.2 C2853.5 852.1 2902.9 852.2 2910.0 852.2" fill="none" stroke="#c32c2d" stroke-width="4.8" stroke-linejoin="round" stroke-linecap="round"/><circle cx="2485.8" cy="990.6" r="5.350" fill="#fff" stroke="#c32c2d" stroke-width="1.700"/><circle cx="2556.4" cy="853.9" r="5.350" fill="#fff" stroke="#c32c2d" stroke-width="1.700"/><circle cx="2627.1" cy="854.1" r="5.350" fill="#fff" stroke="#c32c2d" stroke-width="1.700"/><circle cx="2697.7" cy="854.1" r="5.350" fill="#fff" stroke="#c32c2d" stroke-width="1.700"/><circle cx="2768.5" cy="854.1" r="5.350" fill="#fff" stroke="#c32c2d" stroke-width="1.700"/><circle cx="2839.3" cy="852.2" r="5.350" fill="#fff" stroke="#c32c2d" stroke-width="1.700"/><circle cx="2910.0" cy="852.2" r="5.350" fill="#fff" stroke="#c32c2d" stroke-width="1.700"/><path d="M2457 990.6H2939" stroke="#939393" stroke-width="2.100"/><path d="M2485.8 990.6v7.200" stroke="#939393" stroke-width="1.900"/><path d="M2556.4 990.6v7.200" stroke="#939393" stroke-width="1.900"/><path d="M2627.1 990.6v7.200" stroke="#939393" stroke-width="1.900"/><path d="M2697.7 990.6v7.200" stroke="#939393" stroke-width="1.900"/><path d="M2768.5 990.6v7.200" stroke="#939393" stroke-width="1.900"/><path d="M2839.3 990.6v7.200" stroke="#939393" stroke-width="1.900"/><path d="M2910.0 990.6v7.200" stroke="#939393" stroke-width="1.900"/></svg>
<div class="t " style="left:2457.67px;top:1008.55px;font-size:19.5px;color:#b9b9b9;letter-spacing:-1.772px;word-spacing:3.2px;">Sep 20</div>
<div class="t " style="left:2528.37px;top:1008.55px;font-size:19.5px;color:#b9b9b9;letter-spacing:-2.293px;word-spacing:3.2px;">Sep 21</div>
<div class="t " style="left:2598.97px;top:1008.55px;font-size:19.5px;color:#b9b9b9;letter-spacing:-1.733px;word-spacing:3.2px;">Sep 22</div>
<div class="t " style="left:2669.57px;top:1008.55px;font-size:19.5px;color:#b9b9b9;letter-spacing:-1.752px;word-spacing:3.2px;">Sep 23</div>
<div class="t " style="left:2740.37px;top:1008.55px;font-size:19.5px;color:#b9b9b9;letter-spacing:-1.811px;word-spacing:3.2px;">Sep 24</div>
<div class="t " style="left:2811.17px;top:1008.55px;font-size:19.5px;color:#b9b9b9;letter-spacing:-1.762px;word-spacing:3.2px;">Sep 25</div>
<div class="t " style="left:2881.87px;top:1008.55px;font-size:19.5px;color:#b9b9b9;letter-spacing:-1.752px;word-spacing:3.2px;">Sep 26</div>
<svg class="abs" style="left:2429px;top:1074px" width="25" height="25" viewBox="0 0 25 25"><rect x="0.00" y="0.00" width="7.700" height="7.700" fill="#ea8d3c"/><rect x="8.65" y="0.00" width="7.700" height="7.700" fill="#f0a356"/><rect x="17.30" y="0.00" width="7.700" height="7.700" fill="#fbd9ad"/><rect x="0.00" y="8.65" width="7.700" height="7.700" fill="#f0a356"/><rect x="8.65" y="8.65" width="7.700" height="7.700" fill="#ea8d3c"/><rect x="17.30" y="8.65" width="7.700" height="7.700" fill="#f5b56e"/><rect x="0.00" y="17.30" width="7.700" height="7.700" fill="#fbd9ad"/><rect x="8.65" y="17.30" width="7.700" height="7.700" fill="#f0a356"/><rect x="17.30" y="17.30" width="7.700" height="7.700" fill="#ea8d3c"/></svg>
<div class="t " style="left:2467.84px;top:1075.20px;font-size:22px;color:#555;letter-spacing:0.398px;-webkit-text-stroke:0.80px #555;">Medium Risk Apps</div>
<svg class="abs" style="left:2392px;top:1144.2px" width="578" height="200" viewBox="2392 1144.2 578 200"><path d="M2475.8 1314.2 C2475.8 1314.2 2547.8 1176.4 2547.8 1176.4 C2562.2 1171.8 2605.7 1177.0 2620.2 1177.0 C2634.7 1177.0 2678.1 1177.0 2692.6 1177.0 C2707.1 1177.0 2750.5 1176.9 2765.0 1177.0 C2779.5 1177.1 2822.9 1180.2 2837.4 1180.3 C2851.9 1180.4 2902.6 1180.3 2909.8 1180.3 L2909.8 1314.2 L2475.8 1314.2Z" fill="#fdf8ee"/><path d="M2475.8 1314.2 C2475.8 1314.2 2547.8 1176.4 2547.8 1176.4 C2562.2 1171.8 2605.7 1177.0 2620.2 1177.0 C2634.7 1177.0 2678.1 1177.0 2692.6 1177.0 C2707.1 1177.0 2750.5 1176.9 2765.0 1177.0 C2779.5 1177.1 2822.9 1180.2 2837.4 1180.3 C2851.9 1180.4 2902.6 1180.3 2909.8 1180.3" fill="none" stroke="#efac3f" stroke-width="4.8" stroke-linejoin="round" stroke-linecap="round"/><circle cx="2475.8" cy="1314.2" r="5.350" fill="#fff" stroke="#efac3f" stroke-width="1.700"/><circle cx="2547.8" cy="1176.4" r="5.350" fill="#fff" stroke="#efac3f" stroke-width="1.700"/><circle cx="2620.2" cy="1177.0" r="5.350" fill="#fff" stroke="#efac3f" stroke-width="1.700"/><circle cx="2692.6" cy="1177.0" r="5.350" fill="#fff" stroke="#efac3f" stroke-width="1.700"/><circle cx="2765.0" cy="1177.0" r="5.350" fill="#fff" stroke="#efac3f" stroke-width="1.700"/><circle cx="2837.4" cy="1180.3" r="5.350" fill="#fff" stroke="#efac3f" stroke-width="1.700"/><circle cx="2909.8" cy="1180.3" r="5.350" fill="#fff" stroke="#efac3f" stroke-width="1.700"/><path d="M2447 1314.2H2939" stroke="#939393" stroke-width="2.100"/><path d="M2475.8 1314.2v7.200" stroke="#939393" stroke-width="1.900"/><path d="M2547.8 1314.2v7.200" stroke="#939393" stroke-width="1.900"/><path d="M2620.2 1314.2v7.200" stroke="#939393" stroke-width="1.900"/><path d="M2692.6 1314.2v7.200" stroke="#939393" stroke-width="1.900"/><path d="M2765.0 1314.2v7.200" stroke="#939393" stroke-width="1.900"/><path d="M2837.4 1314.2v7.200" stroke="#939393" stroke-width="1.900"/><path d="M2909.8 1314.2v7.200" stroke="#939393" stroke-width="1.900"/></svg>
<div class="t " style="left:2447.67px;top:1332.15px;font-size:19.5px;color:#b9b9b9;letter-spacing:-1.772px;word-spacing:3.2px;">Sep 20</div>
<div class="t " style="left:2519.77px;top:1332.15px;font-size:19.5px;color:#b9b9b9;letter-spacing:-2.293px;word-spacing:3.2px;">Sep 21</div>
<div class="t " style="left:2592.07px;top:1332.15px;font-size:19.5px;color:#b9b9b9;letter-spacing:-1.733px;word-spacing:3.2px;">Sep 22</div>
<div class="t " style="left:2664.47px;top:1332.15px;font-size:19.5px;color:#b9b9b9;letter-spacing:-1.752px;word-spacing:3.2px;">Sep 23</div>
<div class="t " style="left:2736.87px;top:1332.15px;font-size:19.5px;color:#b9b9b9;letter-spacing:-1.811px;word-spacing:3.2px;">Sep 24</div>
<div class="t " style="left:2809.27px;top:1332.15px;font-size:19.5px;color:#b9b9b9;letter-spacing:-1.762px;word-spacing:3.2px;">Sep 25</div>
<div class="t " style="left:2881.67px;top:1332.15px;font-size:19.5px;color:#b9b9b9;letter-spacing:-1.752px;word-spacing:3.2px;">Sep 26</div>
<svg class="abs" style="left:2429px;top:1398px" width="25" height="25" viewBox="0 0 25 25"><rect x="0.00" y="0.00" width="7.700" height="7.700" fill="#7cc552"/><rect x="8.65" y="0.00" width="7.700" height="7.700" fill="#d6efc4"/><rect x="17.30" y="0.00" width="7.700" height="7.700" fill="#eef9e5"/><rect x="0.00" y="8.65" width="7.700" height="7.700" fill="#7cc552"/><rect x="8.65" y="8.65" width="7.700" height="7.700" fill="#a8db88"/><rect x="17.30" y="8.65" width="7.700" height="7.700" fill="#d6efc4"/><rect x="0.00" y="17.30" width="7.700" height="7.700" fill="#5fb236"/><rect x="8.65" y="17.30" width="7.700" height="7.700" fill="#7cc552"/><rect x="17.30" y="17.30" width="7.700" height="7.700" fill="#a8db88"/></svg>
<div class="t " style="left:2467.44px;top:1399.20px;font-size:22px;color:#555;letter-spacing:0.459px;-webkit-text-stroke:0.80px #555;">Low Risk Apps</div>
<svg class="abs" style="left:2392px;top:1468.2px" width="578" height="200" viewBox="2392 1468.2 578 200"><path d="M2480.5 1638.1 C2480.5 1638.1 2552.0 1638.1 2552.0 1638.1 C2566.3 1638.1 2609.2 1638.1 2623.5 1638.1 C2637.8 1638.1 2680.6 1638.1 2694.9 1638.1 C2709.2 1638.1 2752.1 1638.1 2766.4 1638.1 C2780.7 1638.1 2823.6 1638.1 2837.9 1638.1 C2852.2 1638.1 2902.6 1638.1 2909.8 1638.1" fill="none" stroke="#5b9c3e" stroke-width="5.8" stroke-linejoin="round" stroke-linecap="round"/><circle cx="2480.5" cy="1638.1" r="5.350" fill="#fff" stroke="#5b9c3e" stroke-width="1.700"/><circle cx="2552.0" cy="1638.1" r="5.350" fill="#fff" stroke="#5b9c3e" stroke-width="1.700"/><circle cx="2623.5" cy="1638.1" r="5.350" fill="#fff" stroke="#5b9c3e" stroke-width="1.700"/><circle cx="2694.9" cy="1638.1" r="5.350" fill="#fff" stroke="#5b9c3e" stroke-width="1.700"/><circle cx="2766.4" cy="1638.1" r="5.350" fill="#fff" stroke="#5b9c3e" stroke-width="1.700"/><circle cx="2837.9" cy="1638.1" r="5.350" fill="#fff" stroke="#5b9c3e" stroke-width="1.700"/><circle cx="2909.8" cy="1638.1" r="5.350" fill="#fff" stroke="#5b9c3e" stroke-width="1.700"/><path d="M2452 1638.2H2939" stroke="#939393" stroke-width="2.100"/><path d="M2480.5 1638.2v7.200" stroke="#939393" stroke-width="1.900"/><path d="M2552.0 1638.2v7.200" stroke="#939393" stroke-width="1.900"/><path d="M2623.5 1638.2v7.200" stroke="#939393" stroke-width="1.900"/><path d="M2694.9 1638.2v7.200" stroke="#939393" stroke-width="1.900"/><path d="M2766.4 1638.2v7.200" stroke="#939393" stroke-width="1.900"/><path d="M2837.9 1638.2v7.200" stroke="#939393" stroke-width="1.900"/><path d="M2909.8 1638.2v7.200" stroke="#939393" stroke-width="1.900"/></svg>
<div class="t " style="left:2452.37px;top:1656.15px;font-size:19.5px;color:#b9b9b9;letter-spacing:-1.772px;word-spacing:3.2px;">Sep 20</div>
<div class="t " style="left:2523.97px;top:1656.15px;font-size:19.5px;color:#b9b9b9;letter-spacing:-2.293px;word-spacing:3.2px;">Sep 21</div>
<div class="t " style="left:2595.37px;top:1656.15px;font-size:19.5px;color:#b9b9b9;letter-spacing:-1.733px;word-spacing:3.2px;">Sep 22</div>
<div class="t " style="left:2666.77px;top:1656.15px;font-size:19.5px;color:#b9b9b9;letter-spacing:-1.752px;word-spacing:3.2px;">Sep 23</div>
<div class="t " style="left:2738.27px;top:1656.15px;font-size:19.5px;color:#b9b9b9;letter-spacing:-1.811px;word-spacing:3.2px;">Sep 24</div>
<div class="t " style="left:2809.77px;top:1656.15px;font-size:19.5px;color:#b9b9b9;letter-spacing:-1.762px;word-spacing:3.2px;">Sep 25</div>
<div class="t " style="left:2881.67px;top:1656.15px;font-size:19.5px;color:#b9b9b9;letter-spacing:-1.752px;word-spacing:3.2px;">Sep 26</div>
<div class="abs" style="left:2928px;top:864px;width:50px;height:71px;border-radius:8px 0 0 8px;background:#2f3b4e;box-shadow:-3px 3px 10px rgba(0,0,0,.38)"></div>
<svg class="abs" style="left:2954px;top:880px" width="24" height="38" viewBox="0 0 24 38"><circle cx="10.200" cy="5.800" r="4.900" fill="#fff"/><path d="M4 14.800h9.900v16.100h2.900v6.100H4v-6.100h2.900v-10.300H4z" fill="#fff"/></svg>
</body></html>
